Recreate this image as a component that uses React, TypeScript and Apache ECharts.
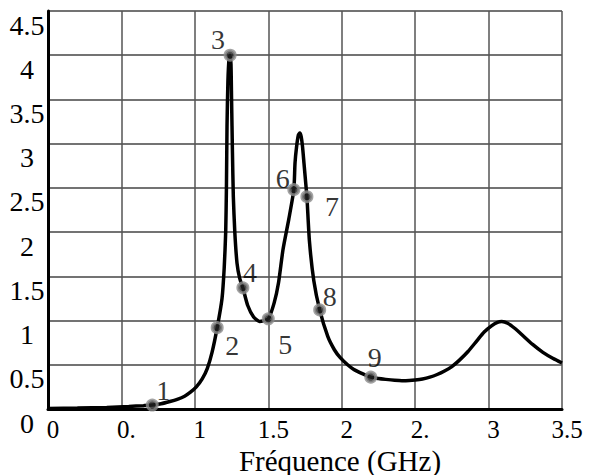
import React, { useEffect, useRef } from "react";
import * as echarts from "echarts";

const curveX = [
  0, 0.2, 0.4, 0.55, 0.65, 0.71, 0.77, 0.83, 0.88, 0.93, 0.97, 1.01, 1.05,
  1.085, 1.117, 1.152, 1.185, 1.2, 1.21, 1.215, 1.219, 1.225, 1.233, 1.24,
  1.246, 1.25, 1.256, 1.262, 1.272, 1.287, 1.305, 1.327, 1.36, 1.4, 1.44, 1.5,
  1.54, 1.57, 1.6, 1.64, 1.674, 1.682, 1.693, 1.705, 1.715, 1.724, 1.733, 1.743,
  1.753, 1.763, 1.78, 1.81, 1.85, 1.905, 1.95, 1.99, 2.04, 2.08, 2.14, 2.198,
  2.25, 2.3, 2.36, 2.41, 2.46, 2.5, 2.55, 2.6, 2.65, 2.7, 2.75, 2.8, 2.86, 2.92,
  2.97, 3.02, 3.06, 3.09, 3.13, 3.18, 3.24, 3.3, 3.37, 3.44, 3.5,
];
const curveY = [
  0.005, 0.01, 0.018, 0.028, 0.038, 0.045, 0.06, 0.085, 0.11, 0.145, 0.19,
  0.25, 0.34, 0.46, 0.64, 0.92, 1.25, 1.6, 2.0, 2.5, 3.2, 3.7, 3.97, 4.0, 3.9,
  3.5, 2.9, 2.4, 2.0, 1.65, 1.48, 1.37, 1.17, 1.04, 0.99, 1.02, 1.2, 1.43, 1.8,
  2.15, 2.48, 2.78, 2.97, 3.1, 3.12, 3.08, 2.97, 2.78, 2.59, 2.4, 1.9, 1.45,
  1.12, 0.82, 0.67, 0.58, 0.5, 0.45, 0.4, 0.36, 0.345, 0.335, 0.325, 0.32,
  0.322, 0.328, 0.34, 0.36, 0.39, 0.43, 0.48, 0.55, 0.65, 0.77, 0.87, 0.94,
  0.98, 0.99, 0.97, 0.91, 0.82, 0.73, 0.64, 0.57, 0.52,
];

const pointX = [0.71, 1.152, 1.24, 1.327, 1.5, 1.674, 1.763, 1.85, 2.198];
const pointY = [0.045, 0.92, 4.0, 1.37, 1.02, 2.48, 2.4, 1.12, 0.36];
const pointNames = ["1", "2", "3", "4", "5", "6", "7", "8", "9"];
const labelOffsets = [
  [11, -15], [15, 18], [-12, -16], [7, -15], [17, 26],
  [-11, -11], [25, 10], [10, -13], [4, -20],
];

const xTickLabels = ["0", "0.", "1", "1.5", "2", "2.", "3", "3.5"];
const yTickLabels = ["0", "0.5", "1", "1.5", "2", "2.5", "3", "3.5", "4", "4.5"];
const xTitle = "Fréquence (GHz)";

const FONT = "'Liberation Serif', 'Times New Roman', serif";

export default function App() {
  const ref = useRef<HTMLDivElement>(null);
  useEffect(() => {
    if (!ref.current) return;
    const chart = echarts.init(ref.current, null, { renderer: "svg" });
    const lineData = curveX.map((x, i) => [x, curveY[i]]);
    const pts = pointX.map((x, i) => ({
      value: [x, pointY[i]],
      name: pointNames[i],
      label: { offset: labelOffsets[i] },
    }));
    chart.setOption({
      animation: false,
      backgroundColor: "#ffffff",
      grid: {
        left: 48,
        top: 11,
        width: 514,
        height: 398,
        outerBoundsMode: "none",
        containLabel: false,
      },
      xAxis: {
        type: "value",
        min: 0,
        max: 3.5,
        interval: 0.5,
        name: xTitle,
        nameLocation: "middle",
        nameGap: 37,
        nameMoveOverlap: false,
        nameTextStyle: {
          fontFamily: FONT,
          fontSize: 29,
          lineHeight: 29,
          color: "#000",
          padding: [0, 0, 0, 70],
        },
        axisLine: { show: true, lineStyle: { color: "#000", width: 3 } },
        axisTick: { show: false },
        splitLine: { show: true, lineStyle: { color: "#555", width: 1.5 } },
        axisLabel: {
          fontFamily: FONT,
          fontSize: 25,
          lineHeight: 25,
          color: "#000",
          margin: 8,
          align: "center",
          padding: [0, 0, 0, 10],
          showMinLabel: true,
          showMaxLabel: true,
          formatter: (v: number) => xTickLabels[Math.round(v / 0.5)] ?? "",
        },
      },
      yAxis: {
        type: "value",
        min: 0,
        max: 4.5,
        interval: 0.5,
        axisLine: { show: true, lineStyle: { color: "#000", width: 3 } },
        axisTick: { show: false },
        splitLine: { show: true, lineStyle: { color: "#444", width: 1.5 } },
        axisLabel: {
          fontFamily: FONT,
          fontSize: 28,
          color: "#000",
          margin: 21,
          align: "center",
          verticalAlign: "top",
          showMinLabel: true,
          showMaxLabel: true,
          formatter: (v: number) => yTickLabels[Math.round(v / 0.5)] ?? "",
        },
      },
      series: [
        {
          type: "line",
          data: lineData,
          showSymbol: false,
          smooth: 0.2,
          lineStyle: { color: "#000", width: 3.5 },
          z: 3,
        },
        {
          type: "scatter",
          data: pts,
          symbol: "circle",
          symbolSize: 10,
          itemStyle: { color: "#222", borderColor: "#8c8c8c", borderWidth: 3 },
          label: {
            show: true,
            position: "inside",
            formatter: "{b}",
            fontFamily: FONT,
            fontSize: 28,
            color: "#000",
            align: "center",
            verticalAlign: "middle",
          },
          z: 4,
        },
      ],
    });
    return () => chart.dispose();
  }, []);
  return (
    <div
      ref={ref}
      style={{ position: "fixed", left: 0, top: 0, width: 590, height: 475 }}
    />
  );
}
